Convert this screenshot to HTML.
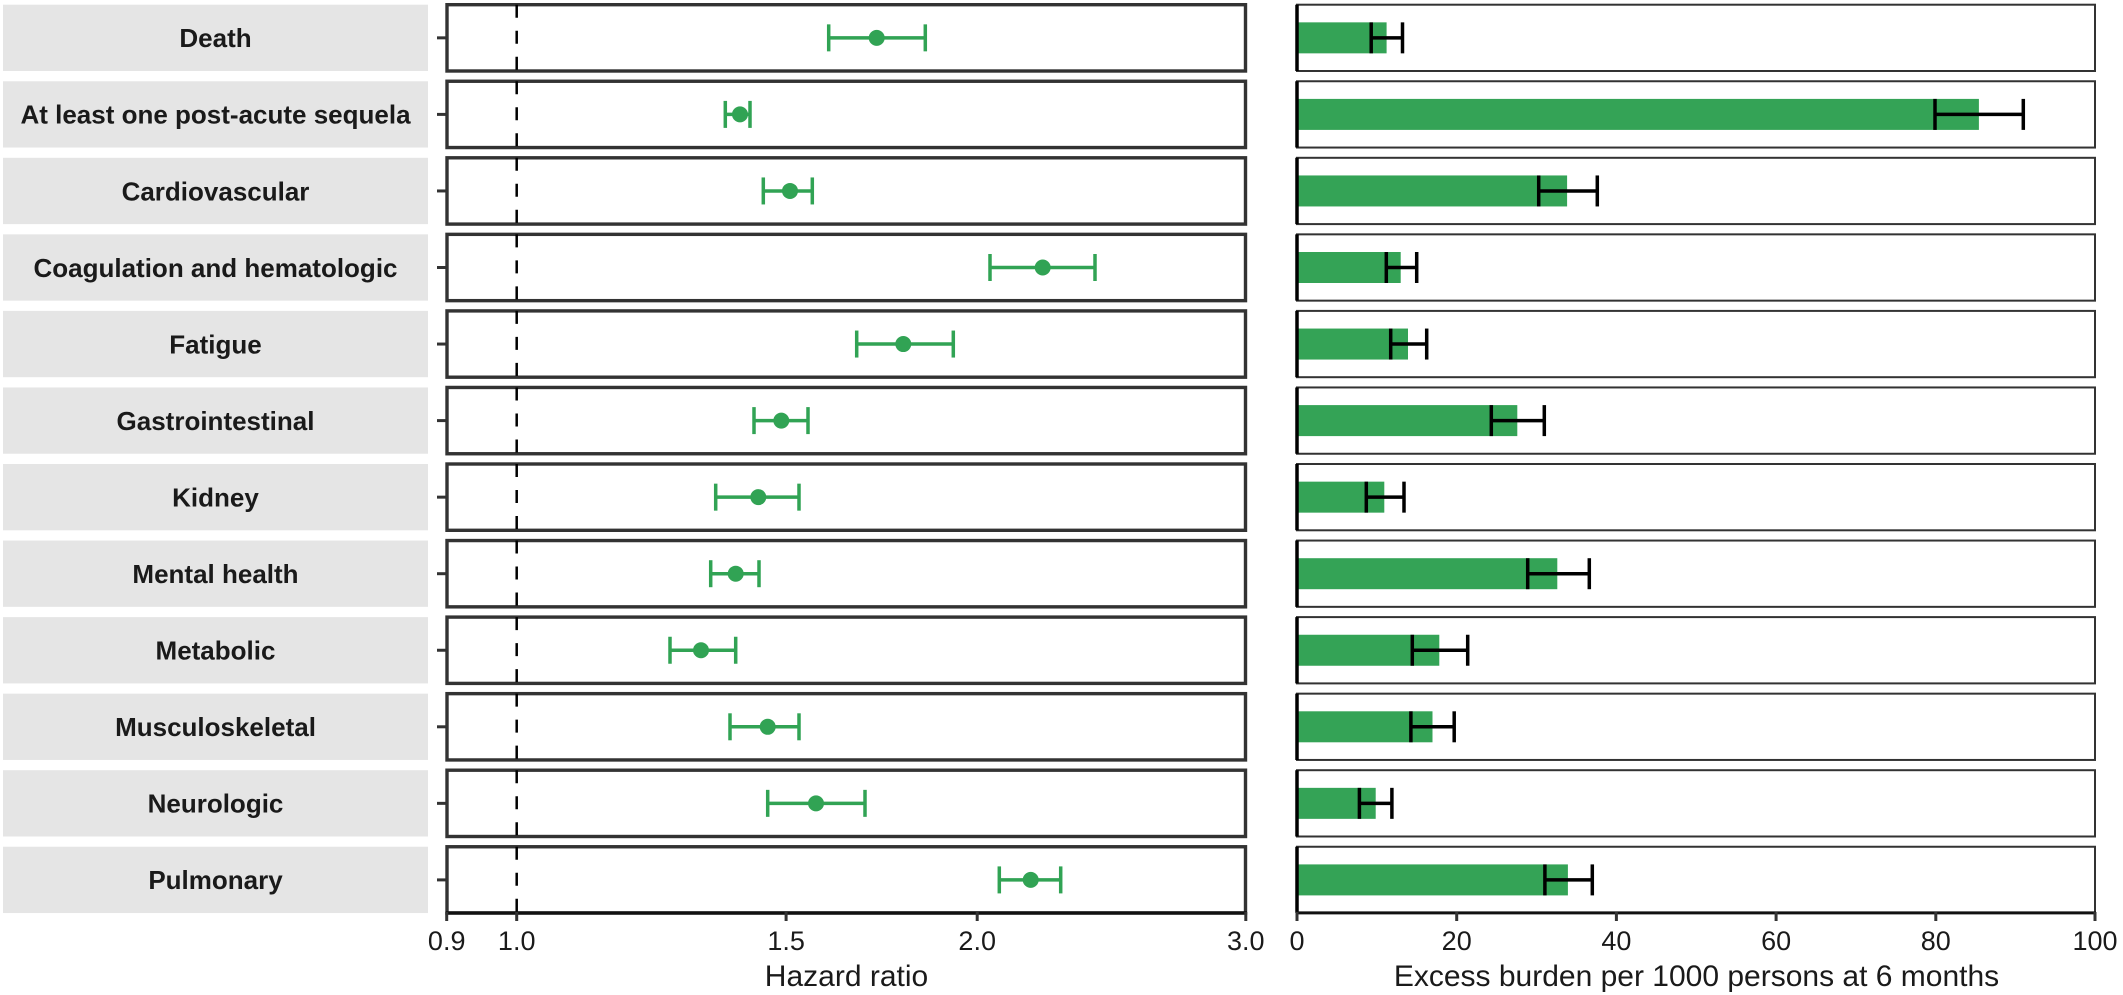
<!DOCTYPE html>
<html>
<head>
<meta charset="utf-8">
<style>
  html, body { margin:0; padding:0; background:#fff; }
  svg { display:block; }
  text { font-family: "Liberation Sans", Arial, sans-serif; }
  .lab { font-size:26px; font-weight:bold; fill:#1a1a1a; text-anchor:middle; }
  .tick { font-size:27px; fill:#1a1a1a; text-anchor:middle; }
  .title { font-size:30px; fill:#1a1a1a; text-anchor:middle; }
</style>
</head>
<body>
<svg width="2123" height="995" viewBox="0 0 2123 995" xmlns="http://www.w3.org/2000/svg">
<defs>
  <g id="rowbase">
    <rect x="3" y="4.7" width="425" height="66.3" fill="#e5e5e5"/>
    <line x1="437" x2="447" y1="37.85" y2="37.85" stroke="#333" stroke-width="3"/>
    <rect x="447" y="4.7" width="798.5" height="66.3" fill="#fff" stroke="#333" stroke-width="3.4"/>
    <line x1="516.7" x2="516.7" y1="4.7" y2="71" stroke="#000" stroke-width="2.5" stroke-dasharray="13 13"/>
    <rect x="1297" y="4.7" width="798" height="66.3" fill="#fff" stroke="#333" stroke-width="2"/>
  </g>
</defs>

<!-- Row 1: Death -->
<g transform="translate(0,0)">
  <use href="#rowbase"/>
  <text class="lab" x="215.5" y="47.2">Death</text>
  <g stroke="#31a354" stroke-width="3.5"><line x1="828.7" x2="925.3" y1="37.85" y2="37.85"/><line x1="828.7" x2="828.7" y1="24.35" y2="51.35"/><line x1="925.3" x2="925.3" y1="24.35" y2="51.35"/></g>
  <circle cx="876.7" cy="37.85" r="8" fill="#31a354"/>
  <rect x="1297" y="22.35" width="89.6" height="31" fill="#34a356"/>
  <g stroke="#000" stroke-width="3.5"><line x1="1371.2" x2="1402.5" y1="37.85" y2="37.85"/><line x1="1371.2" x2="1371.2" y1="22.35" y2="53.35"/><line x1="1402.5" x2="1402.5" y1="22.35" y2="53.35"/></g>
  <line x1="1297" x2="1297" y1="4.7" y2="71" stroke="#000" stroke-width="3.5"/>
</g>

<!-- Row 2: At least one post-acute sequela -->
<g transform="translate(0,76.55)">
  <use href="#rowbase"/>
  <text class="lab" x="215.5" y="47.2">At least one post-acute sequela</text>
  <g stroke="#31a354" stroke-width="3.5"><line x1="725.3" x2="750" y1="37.85" y2="37.85"/><line x1="725.3" x2="725.3" y1="24.35" y2="51.35"/><line x1="750" x2="750" y1="24.35" y2="51.35"/></g>
  <circle cx="740" cy="37.85" r="8" fill="#31a354"/>
  <rect x="1297" y="22.35" width="681.9" height="31" fill="#34a356"/>
  <g stroke="#000" stroke-width="3.5"><line x1="1935" x2="2023.3" y1="37.85" y2="37.85"/><line x1="1935" x2="1935" y1="22.35" y2="53.35"/><line x1="2023.3" x2="2023.3" y1="22.35" y2="53.35"/></g>
  <line x1="1297" x2="1297" y1="4.7" y2="71" stroke="#000" stroke-width="3.5"/>
</g>

<!-- Row 3: Cardiovascular -->
<g transform="translate(0,153.1)">
  <use href="#rowbase"/>
  <text class="lab" x="215.5" y="47.2">Cardiovascular</text>
  <g stroke="#31a354" stroke-width="3.5"><line x1="763.3" x2="812.3" y1="37.85" y2="37.85"/><line x1="763.3" x2="763.3" y1="24.35" y2="51.35"/><line x1="812.3" x2="812.3" y1="24.35" y2="51.35"/></g>
  <circle cx="790" cy="37.85" r="8" fill="#31a354"/>
  <rect x="1297" y="22.35" width="270.1" height="31" fill="#34a356"/>
  <g stroke="#000" stroke-width="3.5"><line x1="1538.7" x2="1597.3" y1="37.85" y2="37.85"/><line x1="1538.7" x2="1538.7" y1="22.35" y2="53.35"/><line x1="1597.3" x2="1597.3" y1="22.35" y2="53.35"/></g>
  <line x1="1297" x2="1297" y1="4.7" y2="71" stroke="#000" stroke-width="3.5"/>
</g>

<!-- Row 4: Coagulation and hematologic -->
<g transform="translate(0,229.65)">
  <use href="#rowbase"/>
  <text class="lab" x="215.5" y="47.2">Coagulation and hematologic</text>
  <g stroke="#31a354" stroke-width="3.5"><line x1="990" x2="1095" y1="37.85" y2="37.85"/><line x1="990" x2="990" y1="24.35" y2="51.35"/><line x1="1095" x2="1095" y1="24.35" y2="51.35"/></g>
  <circle cx="1042.7" cy="37.85" r="8" fill="#31a354"/>
  <rect x="1297" y="22.35" width="103.7" height="31" fill="#34a356"/>
  <g stroke="#000" stroke-width="3.5"><line x1="1386.3" x2="1416.7" y1="37.85" y2="37.85"/><line x1="1386.3" x2="1386.3" y1="22.35" y2="53.35"/><line x1="1416.7" x2="1416.7" y1="22.35" y2="53.35"/></g>
  <line x1="1297" x2="1297" y1="4.7" y2="71" stroke="#000" stroke-width="3.5"/>
</g>

<!-- Row 5: Fatigue -->
<g transform="translate(0,306.2)">
  <use href="#rowbase"/>
  <text class="lab" x="215.5" y="47.2">Fatigue</text>
  <g stroke="#31a354" stroke-width="3.5"><line x1="856.7" x2="953.3" y1="37.85" y2="37.85"/><line x1="856.7" x2="856.7" y1="24.35" y2="51.35"/><line x1="953.3" x2="953.3" y1="24.35" y2="51.35"/></g>
  <circle cx="903.3" cy="37.85" r="8" fill="#31a354"/>
  <rect x="1297" y="22.35" width="111" height="31" fill="#34a356"/>
  <g stroke="#000" stroke-width="3.5"><line x1="1390.7" x2="1426.7" y1="37.85" y2="37.85"/><line x1="1390.7" x2="1390.7" y1="22.35" y2="53.35"/><line x1="1426.7" x2="1426.7" y1="22.35" y2="53.35"/></g>
  <line x1="1297" x2="1297" y1="4.7" y2="71" stroke="#000" stroke-width="3.5"/>
</g>

<!-- Row 6: Gastrointestinal -->
<g transform="translate(0,382.75)">
  <use href="#rowbase"/>
  <text class="lab" x="215.5" y="47.2">Gastrointestinal</text>
  <g stroke="#31a354" stroke-width="3.5"><line x1="754" x2="808" y1="37.85" y2="37.85"/><line x1="754" x2="754" y1="24.35" y2="51.35"/><line x1="808" x2="808" y1="24.35" y2="51.35"/></g>
  <circle cx="781.3" cy="37.85" r="8" fill="#31a354"/>
  <rect x="1297" y="22.35" width="220.3" height="31" fill="#34a356"/>
  <g stroke="#000" stroke-width="3.5"><line x1="1491.3" x2="1544.3" y1="37.85" y2="37.85"/><line x1="1491.3" x2="1491.3" y1="22.35" y2="53.35"/><line x1="1544.3" x2="1544.3" y1="22.35" y2="53.35"/></g>
  <line x1="1297" x2="1297" y1="4.7" y2="71" stroke="#000" stroke-width="3.5"/>
</g>

<!-- Row 7: Kidney -->
<g transform="translate(0,459.3)">
  <use href="#rowbase"/>
  <text class="lab" x="215.5" y="47.2">Kidney</text>
  <g stroke="#31a354" stroke-width="3.5"><line x1="715.7" x2="799" y1="37.85" y2="37.85"/><line x1="715.7" x2="715.7" y1="24.35" y2="51.35"/><line x1="799" x2="799" y1="24.35" y2="51.35"/></g>
  <circle cx="758.3" cy="37.85" r="8" fill="#31a354"/>
  <rect x="1297" y="22.35" width="87.3" height="31" fill="#34a356"/>
  <g stroke="#000" stroke-width="3.5"><line x1="1366.3" x2="1404" y1="37.85" y2="37.85"/><line x1="1366.3" x2="1366.3" y1="22.35" y2="53.35"/><line x1="1404" x2="1404" y1="22.35" y2="53.35"/></g>
  <line x1="1297" x2="1297" y1="4.7" y2="71" stroke="#000" stroke-width="3.5"/>
</g>

<!-- Row 8: Mental health -->
<g transform="translate(0,535.85)">
  <use href="#rowbase"/>
  <text class="lab" x="215.5" y="47.2">Mental health</text>
  <g stroke="#31a354" stroke-width="3.5"><line x1="710.7" x2="759" y1="37.85" y2="37.85"/><line x1="710.7" x2="710.7" y1="24.35" y2="51.35"/><line x1="759" x2="759" y1="24.35" y2="51.35"/></g>
  <circle cx="735.7" cy="37.85" r="8" fill="#31a354"/>
  <rect x="1297" y="22.35" width="260.3" height="31" fill="#34a356"/>
  <g stroke="#000" stroke-width="3.5"><line x1="1527.7" x2="1589.3" y1="37.85" y2="37.85"/><line x1="1527.7" x2="1527.7" y1="22.35" y2="53.35"/><line x1="1589.3" x2="1589.3" y1="22.35" y2="53.35"/></g>
  <line x1="1297" x2="1297" y1="4.7" y2="71" stroke="#000" stroke-width="3.5"/>
</g>

<!-- Row 9: Metabolic -->
<g transform="translate(0,612.4)">
  <use href="#rowbase"/>
  <text class="lab" x="215.5" y="47.2">Metabolic</text>
  <g stroke="#31a354" stroke-width="3.5"><line x1="670" x2="735.7" y1="37.85" y2="37.85"/><line x1="670" x2="670" y1="24.35" y2="51.35"/><line x1="735.7" x2="735.7" y1="24.35" y2="51.35"/></g>
  <circle cx="701" cy="37.85" r="8" fill="#31a354"/>
  <rect x="1297" y="22.35" width="142.3" height="31" fill="#34a356"/>
  <g stroke="#000" stroke-width="3.5"><line x1="1412.3" x2="1467.7" y1="37.85" y2="37.85"/><line x1="1412.3" x2="1412.3" y1="22.35" y2="53.35"/><line x1="1467.7" x2="1467.7" y1="22.35" y2="53.35"/></g>
  <line x1="1297" x2="1297" y1="4.7" y2="71" stroke="#000" stroke-width="3.5"/>
</g>

<!-- Row 10: Musculoskeletal -->
<g transform="translate(0,688.95)">
  <use href="#rowbase"/>
  <text class="lab" x="215.5" y="47.2">Musculoskeletal</text>
  <g stroke="#31a354" stroke-width="3.5"><line x1="730" x2="799" y1="37.85" y2="37.85"/><line x1="730" x2="730" y1="24.35" y2="51.35"/><line x1="799" x2="799" y1="24.35" y2="51.35"/></g>
  <circle cx="767.7" cy="37.85" r="8" fill="#31a354"/>
  <rect x="1297" y="22.35" width="135.5" height="31" fill="#34a356"/>
  <g stroke="#000" stroke-width="3.5"><line x1="1410.9" x2="1454.2" y1="37.85" y2="37.85"/><line x1="1410.9" x2="1410.9" y1="22.35" y2="53.35"/><line x1="1454.2" x2="1454.2" y1="22.35" y2="53.35"/></g>
  <line x1="1297" x2="1297" y1="4.7" y2="71" stroke="#000" stroke-width="3.5"/>
</g>

<!-- Row 11: Neurologic -->
<g transform="translate(0,765.5)">
  <use href="#rowbase"/>
  <text class="lab" x="215.5" y="47.2">Neurologic</text>
  <g stroke="#31a354" stroke-width="3.5"><line x1="767.7" x2="865" y1="37.85" y2="37.85"/><line x1="767.7" x2="767.7" y1="24.35" y2="51.35"/><line x1="865" x2="865" y1="24.35" y2="51.35"/></g>
  <circle cx="816" cy="37.85" r="8" fill="#31a354"/>
  <rect x="1297" y="22.35" width="78.7" height="31" fill="#34a356"/>
  <g stroke="#000" stroke-width="3.5"><line x1="1359.4" x2="1391.9" y1="37.85" y2="37.85"/><line x1="1359.4" x2="1359.4" y1="22.35" y2="53.35"/><line x1="1391.9" x2="1391.9" y1="22.35" y2="53.35"/></g>
  <line x1="1297" x2="1297" y1="4.7" y2="71" stroke="#000" stroke-width="3.5"/>
</g>

<!-- Row 12: Pulmonary -->
<g transform="translate(0,842.05)">
  <use href="#rowbase"/>
  <text class="lab" x="215.5" y="47.2">Pulmonary</text>
  <g stroke="#31a354" stroke-width="3.5"><line x1="999.3" x2="1060.7" y1="37.85" y2="37.85"/><line x1="999.3" x2="999.3" y1="24.35" y2="51.35"/><line x1="1060.7" x2="1060.7" y1="24.35" y2="51.35"/></g>
  <circle cx="1030.7" cy="37.85" r="8" fill="#31a354"/>
  <rect x="1297" y="22.35" width="270.9" height="31" fill="#34a356"/>
  <g stroke="#000" stroke-width="3.5"><line x1="1544.9" x2="1592.3" y1="37.85" y2="37.85"/><line x1="1544.9" x2="1544.9" y1="22.35" y2="53.35"/><line x1="1592.3" x2="1592.3" y1="22.35" y2="53.35"/></g>
  <line x1="1297" x2="1297" y1="4.7" y2="71" stroke="#000" stroke-width="3.5"/>
</g>

<!-- Left x axis -->
<line x1="445.5" x2="1247" y1="912.9" y2="912.9" stroke="#111" stroke-width="3.4"/>
<g stroke="#333" stroke-width="3">
  <line x1="446.7" x2="446.7" y1="912" y2="921"/>
  <line x1="516.7" x2="516.7" y1="912" y2="921"/>
  <line x1="786.1" x2="786.1" y1="912" y2="921"/>
  <line x1="977.2" x2="977.2" y1="912" y2="921"/>
  <line x1="1245.8" x2="1245.8" y1="912" y2="921"/>
</g>
<text class="tick" x="446.7" y="950">0.9</text>
<text class="tick" x="516.7" y="950">1.0</text>
<text class="tick" x="786.1" y="950">1.5</text>
<text class="tick" x="977.2" y="950">2.0</text>
<text class="tick" x="1245.8" y="950">3.0</text>
<text class="title" x="846.5" y="986">Hazard ratio</text>

<!-- Right x axis -->
<line x1="1295.5" x2="2096" y1="912.9" y2="912.9" stroke="#111" stroke-width="3"/>
<g stroke="#333" stroke-width="3">
  <line x1="1297" x2="1297" y1="912" y2="921"/>
  <line x1="1456.7" x2="1456.7" y1="912" y2="921"/>
  <line x1="1616.4" x2="1616.4" y1="912" y2="921"/>
  <line x1="1776.1" x2="1776.1" y1="912" y2="921"/>
  <line x1="1935.8" x2="1935.8" y1="912" y2="921"/>
  <line x1="2095" x2="2095" y1="912" y2="921"/>
</g>
<text class="tick" x="1297" y="950">0</text>
<text class="tick" x="1456.7" y="950">20</text>
<text class="tick" x="1616.4" y="950">40</text>
<text class="tick" x="1776.1" y="950">60</text>
<text class="tick" x="1935.8" y="950">80</text>
<text class="tick" x="2095" y="950">100</text>
<text class="title" x="1696.5" y="986">Excess burden per 1000 persons at 6 months</text>
</svg>
</body>
</html>
